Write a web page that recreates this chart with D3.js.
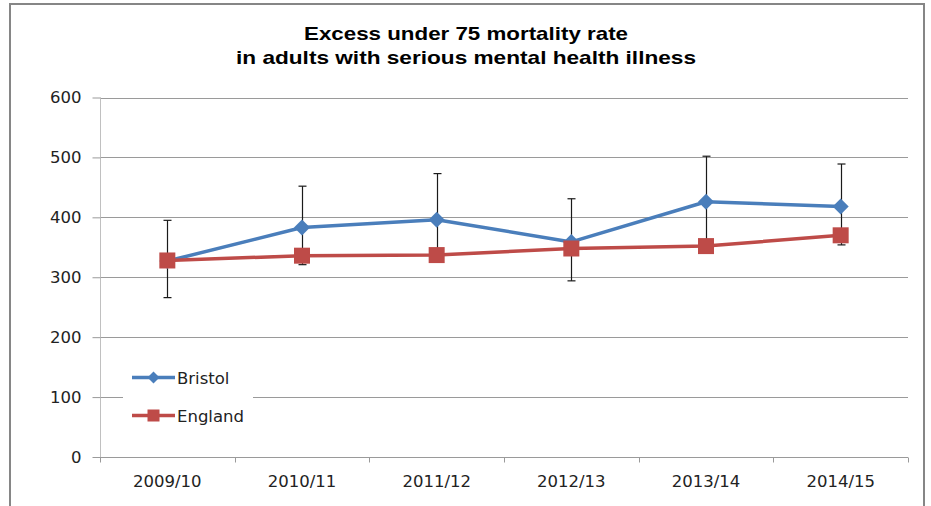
<!DOCTYPE html>
<html>
<head>
<meta charset="utf-8">
<script src="https://cdn.jsdelivr.net/npm/d3@7"></script>
<style>
  html, body { margin: 0; padding: 0; background: #fff; }
  svg { display: block; }
</style>
</head>
<body>
<svg id="chart" width="931" height="506"></svg>
<script>
// ---- data ----
const categories = ["2009/10", "2010/11", "2011/12", "2012/13", "2013/14", "2014/15"];
const bristol = [327, 383, 396, 359, 426, 418];
const bristolUpper = [395, 452, 473, 431, 502, 489];
const bristolLower = [266, 321, 327, 294, 358, 354];
const england = [328, 336, 337, 348, 352, 370];
const yTicks = [0, 100, 200, 300, 400, 500, 600];
const titleLines = ["Excess under 75 mortality rate", "in adults with serious mental health illness"];
const seriesNames = ["Bristol", "England"];

// ---- setup ----
const svg = d3.select("#chart");
const tickFont = "'DejaVu Sans', sans-serif";
const blue = "#4a7ebb", red = "#be4b48";

// outer chart border
svg.append("rect").attr("x", 10).attr("y", 4).attr("width", 914).attr("height", 520)
  .attr("fill", "#fff").attr("stroke", "#868686").attr("stroke-width", 2);

const x = d3.scaleBand().domain(categories).range([100, 908]).paddingInner(0).paddingOuter(0);
const cx = c => x(c) + x.bandwidth() / 2;
const y = d3.scaleLinear().domain([0, 600]).range([457, 97.5]);

// title
const titleWidths = [324, 460];
svg.append("g").selectAll("text").data(titleLines).join("text")
  .attr("x", 466).attr("y", (d, i) => 39.5 + i * 24)
  .attr("text-anchor", "middle")
  .attr("font-family", "'Liberation Sans', Arial, sans-serif")
  .attr("font-weight", "bold").attr("font-size", 18.5)
  .attr("textLength", (d, i) => titleWidths[i])
  .attr("lengthAdjust", "spacingAndGlyphs")
  .attr("fill", "#000")
  .text(d => d);

// gridlines
svg.append("g").selectAll("line").data(yTicks.filter(d => d > 0)).join("line")
  .attr("x1", 100).attr("x2", 908)
  .attr("y1", d => Math.round(y(d)) + 0.5).attr("y2", d => Math.round(y(d)) + 0.5)
  .attr("stroke", "#9a9a9a").attr("stroke-width", 1);

// y axis
const yAxis = svg.append("g").attr("transform", "translate(100.5,0)")
  .call(d3.axisLeft(y).tickValues(yTicks).tickSize(8).tickPadding(11).tickFormat(d3.format("d")));
yAxis.select(".domain").attr("stroke", "#c0c0c0").attr("d", `M0,${y(600)}V462`);
yAxis.selectAll(".tick line").attr("stroke", "#9a9a9a");
yAxis.selectAll(".tick text").attr("font-family", tickFont).attr("font-size", 16.5).attr("fill", "#222");

// x axis
const xAxis = svg.append("g").attr("transform", "translate(0,457.5)")
  .call(d3.axisBottom(x).tickSize(0).tickPadding(18));
xAxis.select(".domain").attr("stroke", "#9a9a9a").attr("d", "M100,0H908");
xAxis.selectAll(".tick text").attr("font-family", tickFont).attr("font-size", 16.5).attr("fill", "#222");
const boundaries = categories.map(c => x(c)).concat([x.range()[1]]);
xAxis.append("g").selectAll("line").data(boundaries).join("line")
  .attr("x1", d => Math.round(d) + 0.5).attr("x2", d => Math.round(d) + 0.5)
  .attr("y1", 0).attr("y2", 5).attr("stroke", "#9a9a9a");

// legend background (covers gridline)
svg.append("rect").attr("x", 123).attr("y", 362).attr("width", 130).attr("height", 68).attr("fill", "#fff");

const line = d3.line().x((d, i) => cx(categories[i])).y(d => y(d));

// Bristol line
svg.append("path").datum(bristol).attr("d", line)
  .attr("fill", "none").attr("stroke", blue).attr("stroke-width", 3.5).attr("stroke-linejoin", "round");

// error bars
const eb = svg.append("g").attr("stroke", "#1a1a1a").attr("stroke-width", 1.2);
categories.forEach((c, i) => {
  const xc = Math.round(cx(c)) + 0.5;
  eb.append("line").attr("x1", xc).attr("x2", xc).attr("y1", y(bristolUpper[i])).attr("y2", y(bristolLower[i]));
  eb.append("line").attr("x1", xc - 4).attr("x2", xc + 4).attr("y1", y(bristolUpper[i])).attr("y2", y(bristolUpper[i]));
  eb.append("line").attr("x1", xc - 4).attr("x2", xc + 4).attr("y1", y(bristolLower[i])).attr("y2", y(bristolLower[i]));
});

// Bristol markers
function diamondPath(r) { return `M0,${-r}L${r},0L0,${r}L${-r},0Z`; }
svg.append("g").selectAll("path").data(bristol).join("path")
  .attr("transform", (d, i) => `translate(${cx(categories[i])},${y(d)})`)
  .attr("d", diamondPath(8)).attr("fill", blue);

// England line
svg.append("path").datum(england).attr("d", line)
  .attr("fill", "none").attr("stroke", red).attr("stroke-width", 3.5).attr("stroke-linejoin", "round");
svg.append("g").selectAll("rect").data(england).join("rect")
  .attr("x", (d, i) => cx(categories[i]) - 8).attr("y", d => y(d) - 8)
  .attr("width", 16).attr("height", 16).attr("fill", red);

// legend
const legend = svg.append("g");
const legendY = [377.5, 415.5];
const legendColors = [blue, red];
seriesNames.forEach((name, i) => {
  const g = legend.append("g").attr("transform", `translate(0,${legendY[i]})`);
  g.append("line").attr("x1", 132).attr("x2", 175).attr("y1", 0).attr("y2", 0)
    .attr("stroke", legendColors[i]).attr("stroke-width", 3.5);
  if (i === 0) {
    g.append("path").attr("transform", "translate(153.5,0)").attr("d", diamondPath(6)).attr("fill", blue);
  } else {
    g.append("rect").attr("x", 147.5).attr("y", -6).attr("width", 12).attr("height", 12).attr("fill", red);
  }
  g.append("text").attr("x", 177).attr("y", 6).attr("font-family", tickFont).attr("font-size", 16.5)
    .attr("fill", "#222").text(name);
});
</script>
</body>
</html>
